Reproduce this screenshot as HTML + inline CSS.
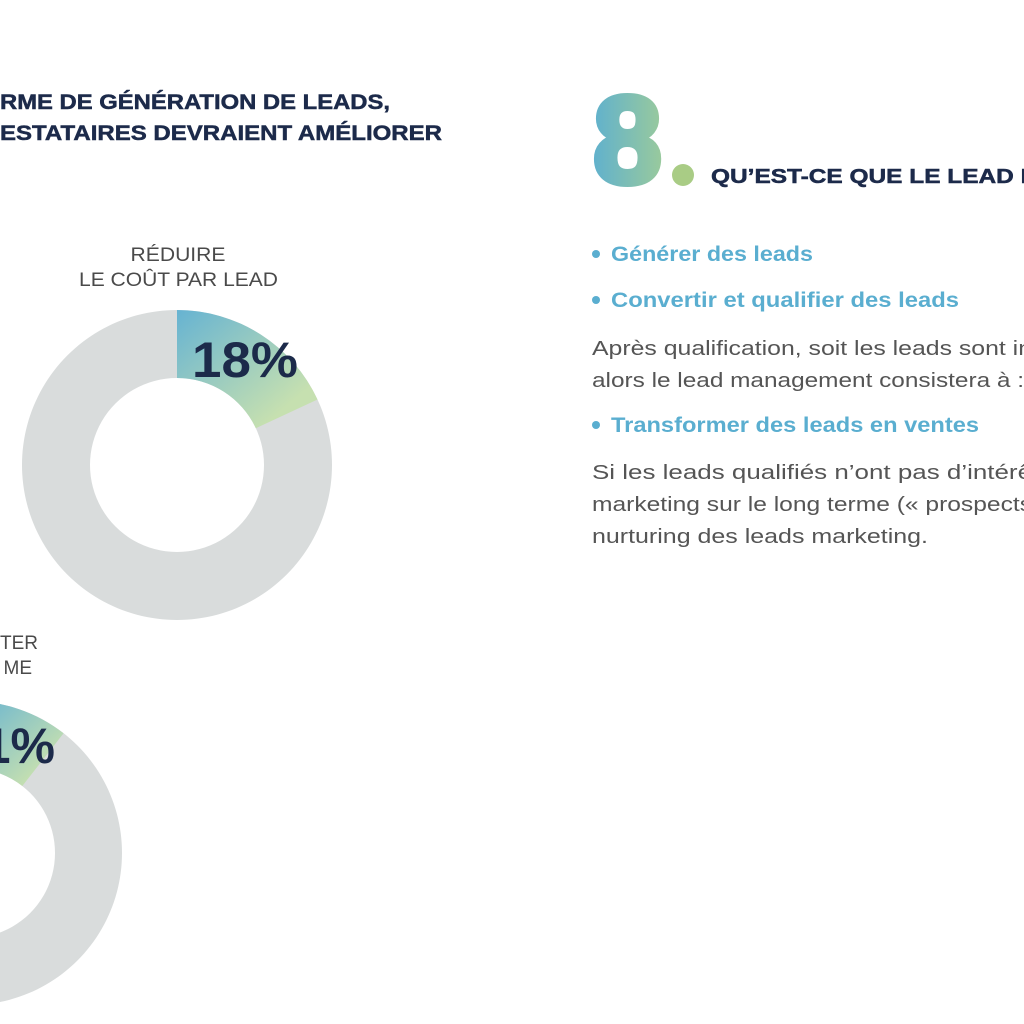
<!DOCTYPE html>
<html><head><meta charset="utf-8"><style>
html,body{margin:0;padding:0;background:#fff;}
svg{display:block;}
text{font-family:"Liberation Sans",sans-serif;}
</style></head><body>
<svg width="1024" height="1024" viewBox="0 0 1024 1024" xmlns="http://www.w3.org/2000/svg">
<defs>
<linearGradient id="g8" gradientUnits="userSpaceOnUse" x1="590" y1="0" x2="666" y2="0">
<stop offset="0" stop-color="#5eb0cf"/><stop offset="1" stop-color="#9ccb9a"/>
</linearGradient>
<linearGradient id="gs" x1="0" y1="0" x2="1" y2="1">
<stop offset="0" stop-color="#66b3d2"/><stop offset="0.8" stop-color="#c6e0b0"/>
</linearGradient>
</defs>
<g fill="#1c2a4a" font-weight="bold" font-size="21" stroke="#1c2a4a" stroke-width="0.5">
<text x="0" y="109" textLength="390" lengthAdjust="spacingAndGlyphs">RME DE GÉNÉRATION DE LEADS,</text>
<text x="0" y="140" textLength="442" lengthAdjust="spacingAndGlyphs">ESTATAIRES DEVRAIENT AMÉLIORER</text>
</g>
<g fill="#4a4a4a" font-size="19">
<text x="178" y="261" text-anchor="middle" textLength="95" lengthAdjust="spacingAndGlyphs">RÉDUIRE</text>
<text x="79" y="286" textLength="199" lengthAdjust="spacingAndGlyphs">LE COÛT PAR LEAD</text>
<text x="38" y="649" text-anchor="end">TER</text>
<text x="32" y="674" text-anchor="end">ME</text>
</g>
<path d="M177 310 A155 155 0 1 1 176.99 310 Z M177 378 A87 87 0 1 0 177.01 378 Z" fill="#d9dcdc" fill-rule="evenodd"/>
<path d="M177 310 A155 155 0 0 1 317.5 399.5 L255.8 428.2 A87 87 0 0 0 177 378 Z" fill="url(#gs)"/>
<text x="192" y="377" font-size="50" font-weight="bold" fill="#1c2a4a" textLength="106" lengthAdjust="spacingAndGlyphs">18%</text>
<path d="M-30 701 A152 152 0 1 1 -30.01 701 Z M-30 768 A85 85 0 1 0 -29.99 768 Z" fill="#d9dcdc" fill-rule="evenodd"/>
<path d="M-30 701 A152 152 0 0 1 63.6 733.3 L22.3 786 A85 85 0 0 0 -30 768 Z" fill="url(#gs)"/>
<text x="55" y="763" font-size="50" font-weight="bold" fill="#1c2a4a" text-anchor="end">1%</text>
<text x="593" y="183" font-size="124" font-weight="bold" fill="url(#g8)" stroke="url(#g8)" stroke-width="6" stroke-linejoin="round" textLength="69" lengthAdjust="spacingAndGlyphs">8</text>
<circle cx="683" cy="175" r="11" fill="#a9cc85"/>
<text x="711" y="183" font-size="20" font-weight="bold" fill="#1c2a4a" stroke="#1c2a4a" stroke-width="0.5" textLength="330" lengthAdjust="spacingAndGlyphs">QU’EST-CE QUE LE LEAD M</text>
<g fill="#5aaed0" font-weight="bold" font-size="21">
<circle cx="596" cy="254" r="4"/><text x="611" y="261" textLength="202" lengthAdjust="spacingAndGlyphs">Générer des leads</text>
<circle cx="596" cy="300" r="4"/><text x="611" y="307" textLength="348" lengthAdjust="spacingAndGlyphs">Convertir et qualifier des leads</text>
<circle cx="596" cy="425" r="4"/><text x="611" y="432" textLength="368" lengthAdjust="spacingAndGlyphs">Transformer des leads en ventes</text>
</g>
<g fill="#555" font-size="20">
<text x="592" y="355" textLength="440" lengthAdjust="spacingAndGlyphs">Après qualification, soit les leads sont in</text>
<text x="592" y="387" textLength="432" lengthAdjust="spacingAndGlyphs">alors le lead management consistera à :</text>
<text x="592" y="479" textLength="440" lengthAdjust="spacingAndGlyphs">Si les leads qualifiés n’ont pas d’intérê</text>
<text x="592" y="511" textLength="440" lengthAdjust="spacingAndGlyphs">marketing sur le long terme (« prospects</text>
<text x="592" y="543" textLength="336" lengthAdjust="spacingAndGlyphs">nurturing des leads marketing.</text>
</g>
</svg>
</body></html>
